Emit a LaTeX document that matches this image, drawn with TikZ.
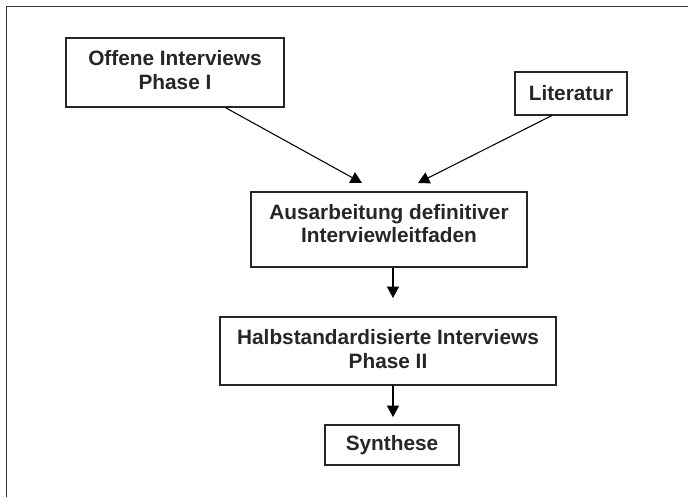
\documentclass[tikz,border=0pt]{standalone}
\usepackage{fontspec}
\setmainfont{Liberation Sans}
\usetikzlibrary{arrows.meta,calc}
\begin{document}
\begin{tikzpicture}[x=0.75pt,y=-0.75pt,
  box/.style={draw=black!85,line width=0.9pt,rectangle,inner sep=0pt,align=center,
    font=\fontsize{15.6}{17.8}\selectfont\bfseries,text=black!85},
  txt/.style={inner sep=0pt,align=center,
    font=\fontsize{15.6}{17.8}\selectfont\bfseries,text=black!85},
  arr/.style={draw=black,line width=0.8pt,-{Triangle[length=8.5pt,width=9pt]}},
  frame/.style={draw=black!80,line width=1.3pt}]
\useasboundingbox (0,0) rectangle (688,497);
\draw[frame] (6.5,497) -- (6.5,6.5) -- (688,6.5);
\node[box,minimum width=163.5pt,minimum height=51.75pt] (b1) at (175,72.5) {};
\node[txt] (l1) at (175,70) {Offene Interviews\\Phase I};
\node[box,minimum width=84pt,minimum height=32.25pt] (b2) at (571,93.5) {Literatur};
\node[box,minimum width=207pt,minimum height=56.25pt] (b3) at (389,229.5) {};
\node[txt] (l3) at (389,223.5) {Ausarbeitung definitiver\\Interviewleitfaden};
\node[box,minimum width=252pt,minimum height=51pt] (b4) at (388,351) {};
\node[txt] (l4) at (388,349) {Halbstandardisierte Interviews\\Phase II};
\node[box,minimum width=100.5pt,minimum height=30pt] (b5) at (392,445) {Synthese};
\coordinate (t1) at (362,183);
\coordinate (t2) at (418,183);
\coordinate (t3) at (393,298);
\coordinate (t4) at (393,417);
\draw[arr] ($(b1.south west)!0.73!(b1.south east)$) -- (t1);
\draw[arr] ($(b2.south west)!0.33!(b2.south east)$) -- (t2);
\draw[arr] (b3.south -| t3) -- (t3);
\draw[arr] (b4.south -| t4) -- (t4);
\end{tikzpicture}
\end{document}
